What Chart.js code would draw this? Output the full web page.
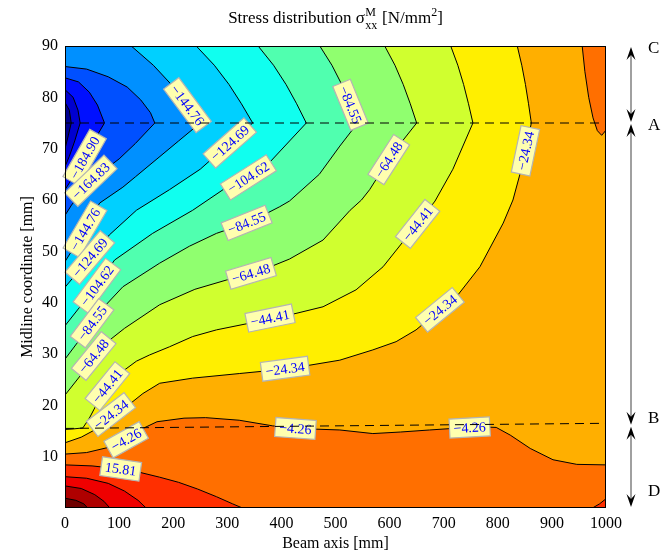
<!DOCTYPE html>
<html>
<head>
<meta charset="utf-8">
<script src="https://cdn.jsdelivr.net/npm/chart.js@4/dist/chart.umd.min.js"></script>
<style>
  html, body { margin: 0; padding: 0; background: #fff; }
  #wrap { width: 662px; height: 553px; position: relative; }
</style>
</head>
<body>
<div id="wrap"><canvas id="c" width="662" height="553"></canvas></div>
<script>
// Contour levels of sigma_xx^M in N/mm^2
const levels = [-225.04, -204.97, -184.90, -164.83, -144.76, -124.69, -104.62, -84.55,
                -64.48, -44.41, -24.34, -4.26, 15.81, 35.88, 55.95, 76.02];

// Fill colour of each band: bandColors[i] lies below levels[i], the last one above the top level
const bandColors = ['#000090', '#0000D0', '#0010FF', '#0050FF', '#0090FF', '#00D0FF',
                    '#10FFEF', '#50FFAF', '#90FF6F', '#D0FF2F', '#FFEF00', '#FFAF00',
                    '#FF6F00', '#FF2F00', '#EF0000', '#AF0000', '#6F0000'];

// Iso-lines, [beam axis mm, midline coordinate mm]
const sig_m225_04 = [[0,70],[6,72.5],[11.5,75],[8,77.5],[0,79]];
const sig_m204_97 = [[0,66.5],[8,68.5],[18,71.5],[28,75],[24,77.5],[15,80],[0,81.5]];
const sig_m184_90 = [[0,62],[20,65.3],[36,68.2],[55,71.8],[73,75],[60,78.5],[45,81],[25,83],[0,83.8]];
const sig_m164_83 = [[0,57],[12,59],[30,61.5],[46,63.6],[75,66],[100,68],[130,71],[166,75],
                     [158,77],[140,79.5],[115,82],[80,84],[40,85.5],[0,86]];
const sig_m144_76 = [[0,48],[15,50.5],[37,54.3],[64,59.4],[107,62.5],[130,64.5],[170,68],[210,71.5],
                     [250,75],[224.5,78.75],[196.5,82.5],[163.3,86.25],[122.5,90]];
const sig_m124_69 = [[0,43],[20,45.5],[46,48.8],[82,53.2],[132,58],[193,62],[250,66],[304.6,71.1],
                     [347,75],[326.1,78.75],[303.2,82.5],[276,86.25],[242.6,90]];
const sig_m104_62 = [[0,35.5],[30,39.5],[59,43.3],[91.6,48.3],[162,53.5],[236,58],[292,62],[323,63.4],
                     [345,64.8],[378,67.3],[446,75],[428.2,78.75],[408.6,82.5],[385.5,86.25],[357,90]];
const sig_m84_55 = [[0,29],[25,32.5],[50,36],[75,39.5],[107,43.1],[175,47.7],[230,51],[280,53.5],
                    [335,55.5],[360,56.7],[397,58.7],[415,59.8],[470,65],[508,70.5],[541,75],
                    [527,78.75],[511.6,82.5],[493.4,86.25],[471,90]];
const sig_m64_48 = [[0,22],[30,26],[53,29.6],[80,32.5],[110,35],[175,39.6],[240,42.6],[298,44.4],
                    [347,45.8],[380,47],[415,48.5],[477,52.2],[527,58],[548,60],[563,62],[606.5,69.2],
                    [650,75],[638.2,78.75],[625.2,82.5],[609.9,86.25],[591,90]];
const sig_m44_41 = [[0,15.3],[15,15.4],[33,15.6],[45,17.5],[60,20.5],[76,23.5],[105,26.5],[132,28.6],
                    [156,29.8],[193,31.4],[236,33.4],[280,34.7],[341,36],[379,37],[415,37.6],[477,39.2],
                    [538,42.5],[588,47],[625,51.9],[653,55.5],[684,59.8],[717,66],[754,75],
                    [745.8,78.75],[736.8,82.5],[726.1,86.25],[713,90]];
const sig_m24_34 = [[0,12.7],[30,13.8],[60,15.5],[85,18.2],[119,20.2],[144,22.3],[175,24.3],[236,25.3],
                    [323,26.2],[391,26.9],[434,27.5],[508,28.8],[569,30.8],[612,32.4],[649,34.7],
                    [693,38.6],[724,41.2],[767,47],[810,55.5],[828,60],[846,67],[862,75],
                    [856.8,78.75],[851.1,82.5],[844.3,86.25],[836,90]];
const sig_m4_26 = [[0,10.5],[40,10.8],[80,11.8],[113,13.3],[140,15.3],[170,16.8],[220,17.5],[260,17.6],
                   [322,17.1],[384,16],[425,15.5],[508,15.2],[569,14.5],[620,14.8],[674,15.2],[717,15.5],
                   [770,15.8],[797,15.7],[823,14.2],[860,11.6],[902,9.4],[946,8.5],[1000,8.4]];
const sig_m4_26_corner = [[956,90],[961,85],[968,80],[976,76],[984,73.5],[992,72.6],[1000,73.6]];
const sig_15_81 = [[0,8.4],[50,8.2],[103,7.6],[140,6.9],[175,6],[210,5],[245,3.7],[280,2.2],[310,0.8],[328,0]];
const sig_15_81_corner = [[975,0],[988,0.8],[1000,1.8]];
const sig_35_88 = [[0,6.1],[40,5.8],[80,4.8],[110,3.3],[135,1.5],[150,0]];
const sig_55_95 = [[0,4.3],[30,3.8],[55,2.6],[72,1.3],[83,0]];
const sig_76_02 = [[0,1.9],[20,1.5],[35,0.8],[42,0]];

// Pieces of each iso-line, parallel to levels
const contourLines = [[sig_m225_04], [sig_m204_97], [sig_m184_90], [sig_m164_83], [sig_m144_76],
                      [sig_m124_69], [sig_m104_62], [sig_m84_55], [sig_m64_48], [sig_m44_41],
                      [sig_m24_34], [sig_m4_26, sig_m4_26_corner], [sig_15_81, sig_15_81_corner],
                      [sig_35_88], [sig_55_95], [sig_76_02]];

// Level labels: [level, beam axis, midline coordinate] near where each one sits
const labelSpots = [
  [-184.90, 32, 68.5], [-164.83, 46, 64], [-144.76, 37, 54.3], [-124.69, 46, 48.8],
  [-104.62, 59, 43.3], [-84.55, 50, 36], [-64.48, 53, 29.6], [-44.41, 76, 24],
  [-24.34, 85, 18.2], [-4.26, 113, 13.3], [15.81, 103, 7.6],
  [-144.76, 224, 78.3], [-124.69, 304.6, 71.1], [-104.62, 347, 63], [-84.55, 338, 55],
  [-64.48, 343, 46], [-44.41, 379, 37], [-24.34, 407, 27], [-4.26, 426, 15.6],
  [-84.55, 522, 78.3], [-64.48, 604, 67.5], [-44.41, 650, 55.5], [-24.34, 693, 38.6],
  [-4.26, 748, 15.7], [-24.34, 855, 69.5]
];

// Section boundaries of the cross section (midline coordinate, mm)
const sectionTop = 90, sectionAB = 75, sectionBD_left = 15.5, sectionBD_right = 16.5, sectionBottom = 0;
const sectionNames = ['C', 'A', 'B', 'D'];
const sectionNameAt = [89.6, 74.6, 17.5, 3.3];

const X0 = 0, X1 = 1000, Y0 = 0, Y1 = 90;
const FONT = '"Liberation Serif", "Times New Roman", serif';

// ---- fill regions, painted from the outer band inwards ----
const regions = [];
regions.push({ pts: [[X0, Y0], [X1, Y0], [X1, Y1], [X0, Y1]], color: bandColors[12] });
for (let i = 11; i >= 0; i--) {          // sigma below a negative level
  const pieces = contourLines[i];
  let poly = pieces[0].slice();
  if (pieces.length > 1) poly = poly.concat(pieces[1].slice().reverse());
  const last = poly[poly.length - 1];
  if (last[1] === Y1) poly.push([X0, Y1]);
  regions.push({ pts: poly, color: bandColors[i] });
}
for (let i = 12; i < levels.length; i++) {  // sigma above a positive level
  for (const piece of contourLines[i]) {
    const poly = piece.slice();
    if (piece[0][0] === X0) poly.push([X0, Y0]);
    else poly.push([X1, Y0]);
    regions.push({ pts: poly, color: bandColors[i + 1] });
  }
}

const toXY = pts => pts.map(([x, y]) => ({ x, y }));
const datasets = [];
regions.forEach((r, k) => {
  datasets.push({
    data: toXY(r.pts), fill: 'shape', backgroundColor: r.color,
    borderColor: 'rgba(0,0,0,0)', borderWidth: 0, pointRadius: 0, tension: 0,
    order: 1000 - k
  });
});
contourLines.forEach(pieces => pieces.forEach(piece => {
  datasets.push({
    data: toXY(piece), fill: false, borderColor: '#000', borderWidth: 1,
    pointRadius: 0, tension: 0, order: 10
  });
}));

// ---- drawing helpers ----
function pathPixels(chart, pts) {
  const xs = chart.scales.x, ys = chart.scales.y;
  return pts.map(([x, y]) => [xs.getPixelForValue(x), ys.getPixelForValue(y)]);
}
function placeOnPath(path, px, py) {
  const cum = [0];
  for (let i = 1; i < path.length; i++)
    cum.push(cum[i - 1] + Math.hypot(path[i][0] - path[i - 1][0], path[i][1] - path[i - 1][1]));
  let best = { d: Infinity };
  for (let i = 1; i < path.length; i++) {
    const [ax, ay] = path[i - 1], [bx, by] = path[i];
    const vx = bx - ax, vy = by - ay, L2 = vx * vx + vy * vy || 1;
    let t = ((px - ax) * vx + (py - ay) * vy) / L2;
    t = Math.max(0, Math.min(1, t));
    const qx = ax + t * vx, qy = ay + t * vy, d = Math.hypot(px - qx, py - qy);
    if (d < best.d) best = { d, x: qx, y: qy, s: cum[i - 1] + t * Math.sqrt(L2) };
  }
  const total = cum[cum.length - 1];
  const at = s => {
    s = Math.max(0, Math.min(total, s));
    for (let i = 1; i < path.length; i++) {
      if (s <= cum[i] || i === path.length - 1) {
        const seg = cum[i] - cum[i - 1] || 1, t = (s - cum[i - 1]) / seg;
        return [path[i - 1][0] + t * (path[i][0] - path[i - 1][0]), path[i - 1][1] + t * (path[i][1] - path[i - 1][1])];
      }
    }
    return path[path.length - 1];
  };
  const p1 = at(best.s - 9), p2 = at(best.s + 9);
  let ang = Math.atan2(p2[1] - p1[1], p2[0] - p1[0]);
  if (ang > Math.PI / 2) ang -= Math.PI;
  if (ang <= -Math.PI / 2) ang += Math.PI;
  return { x: best.x, y: best.y, ang, d: best.d };
}
const fmt = v => (v < 0 ? '\u2212' : '') + Math.abs(v).toFixed(2);

function drawLabels(chart) {
  const ctx = chart.ctx, xs = chart.scales.x, ys = chart.scales.y;
  ctx.save();
  ctx.font = '14px ' + FONT;
  ctx.textAlign = 'center';
  ctx.textBaseline = 'middle';
  for (const [lev, lx, ly] of labelSpots) {
    const idx = levels.indexOf(lev);
    const px = xs.getPixelForValue(lx), py = ys.getPixelForValue(ly);
    let pos = null;
    for (const piece of contourLines[idx]) {
      const p = placeOnPath(pathPixels(chart, piece), px, py);
      if (!pos || p.d < pos.d) pos = p;
    }
    const txt = fmt(levels[idx]);
    const w = ctx.measureText(txt).width + 8, h = 19;
    ctx.save();
    ctx.translate(pos.x, pos.y);
    ctx.rotate(pos.ang);
    ctx.fillStyle = 'rgb(255,255,175)';
    ctx.fillRect(-w / 2, -h / 2, w, h);
    ctx.strokeStyle = '#b4b4b4';
    ctx.lineWidth = 1.2;
    ctx.strokeRect(-w / 2, -h / 2, w, h);
    ctx.fillStyle = '#0000ff';
    ctx.fillText(txt, 0, 1);
    ctx.restore();
  }
  ctx.restore();
}

function drawSectionLines(chart) {
  const ctx = chart.ctx, xs = chart.scales.x, ys = chart.scales.y, a = chart.chartArea;
  ctx.save();
  ctx.beginPath();
  ctx.rect(a.left, a.top, a.right - a.left, a.bottom - a.top);
  ctx.clip();
  ctx.strokeStyle = '#000';
  ctx.lineWidth = 1;
  ctx.setLineDash([9, 6]);
  ctx.beginPath();
  ctx.moveTo(xs.getPixelForValue(X0), ys.getPixelForValue(sectionAB));
  ctx.lineTo(xs.getPixelForValue(X1), ys.getPixelForValue(sectionAB));
  ctx.moveTo(xs.getPixelForValue(X0), ys.getPixelForValue(sectionBD_left));
  ctx.lineTo(xs.getPixelForValue(X1), ys.getPixelForValue(sectionBD_right));
  ctx.stroke();
  ctx.restore();
}

function drawFrame(chart) {
  const ctx = chart.ctx, a = chart.chartArea;
  ctx.save();
  ctx.strokeStyle = '#000';
  ctx.lineWidth = 1;
  ctx.strokeRect(Math.round(a.left) + 0.5, Math.round(a.top) + 0.5,
                 Math.round(a.right - a.left) - 1, Math.round(a.bottom - a.top) - 1);
  ctx.restore();
}

function arrowHead(ctx, x, tipY, dir) {   // dir: -1 points up, +1 points down
  const len = 13, half = 4.5, notch = 8;
  ctx.beginPath();
  ctx.moveTo(x, tipY);
  ctx.lineTo(x - half, tipY - dir * len);
  ctx.lineTo(x, tipY - dir * notch);
  ctx.lineTo(x + half, tipY - dir * len);
  ctx.closePath();
  ctx.fill();
}

function drawSections(chart) {
  const ctx = chart.ctx, ys = chart.scales.y, a = chart.chartArea;
  const ax = a.right + 25;
  const bBD = (sectionBD_left + sectionBD_right) / 2;
  const spans = [[sectionTop, sectionAB], [sectionAB, bBD], [bBD, sectionBottom]];
  ctx.save();
  for (const [yt, yb] of spans) {
    const pt = ys.getPixelForValue(yt) + 1, pb = ys.getPixelForValue(yb) - 1;
    ctx.strokeStyle = '#808080';
    ctx.lineWidth = 1.5;
    ctx.beginPath();
    ctx.moveTo(ax, pt + 6);
    ctx.lineTo(ax, pb - 6);
    ctx.stroke();
    ctx.fillStyle = '#000';
    arrowHead(ctx, ax, pt, -1);
    arrowHead(ctx, ax, pb, 1);
  }
  ctx.fillStyle = '#000';
  ctx.font = '17px ' + FONT;
  ctx.textAlign = 'left';
  ctx.textBaseline = 'middle';
  sectionNames.forEach((n, i) => ctx.fillText(n, a.right + 42, ys.getPixelForValue(sectionNameAt[i])));
  ctx.restore();
}

function drawTitle(chart) {
  const ctx = chart.ctx, a = chart.chartArea;
  const big = '17px ' + FONT, small = '12px ' + FONT;
  const base = 23;
  ctx.save();
  ctx.fillStyle = '#000';
  ctx.textBaseline = 'alphabetic';
  ctx.textAlign = 'left';
  const seg1 = 'Stress distribution \u03C3', seg2 = ' [N/mm', seg3 = ']';
  ctx.font = big;
  const w1 = ctx.measureText(seg1).width, w2 = ctx.measureText(seg2).width, w3 = ctx.measureText(seg3).width;
  ctx.font = small;
  const wM = ctx.measureText('M').width, wxx = ctx.measureText('xx').width, w2s = ctx.measureText('2').width;
  const wStack = Math.max(wM, wxx) + 1;
  const total = w1 + wStack + w2 + w2s + w3;
  let x = (a.left + a.right) / 2 - total / 2;
  ctx.font = big; ctx.fillText(seg1, x, base); x += w1;
  ctx.font = small; ctx.fillText('M', x + 0.5, base - 7); ctx.fillText('xx', x + 0.5, base + 6); x += wStack;
  ctx.font = big; ctx.fillText(seg2, x, base); x += w2;
  ctx.font = small; ctx.fillText('2', x, base - 7); x += w2s;
  ctx.font = big; ctx.fillText(seg3, x, base);
  ctx.restore();
}

const overlay = {
  id: 'overlay',
  afterDatasetsDraw(chart) {
    drawLabels(chart);
    drawSectionLines(chart);
    drawFrame(chart);
  },
  afterDraw(chart) {
    drawTitle(chart);
    drawSections(chart);
  }
};

new Chart(document.getElementById('c'), {
  type: 'line',
  data: { datasets },
  options: {
    responsive: false,
    animation: false,
    events: [],
    layout: { padding: { top: 46, right: 56, left: 0, bottom: 0 } },
    plugins: { legend: { display: false }, tooltip: { enabled: false }, filler: { propagate: false } },
    scales: {
      x: {
        type: 'linear', min: X0, max: X1,
        afterFit: s => { s.height = 45; },
        grid: { display: false, drawTicks: false },
        border: { display: false },
        ticks: { stepSize: 100, color: '#000', font: { family: FONT, size: 16 }, padding: 6, maxRotation: 0,
                 callback: v => String(v) },
        title: { display: true, text: 'Beam axis [mm]', color: '#000', font: { family: FONT, size: 16 }, padding: { top: 0, bottom: 0 } }
      },
      y: {
        type: 'linear', min: Y0, max: Y1,
        afterFit: s => { s.width = 65; },
        grid: { display: false, drawTicks: false },
        border: { display: false },
        ticks: { stepSize: 10, color: '#000', font: { family: FONT, size: 16 }, padding: 7,
                 callback: v => (v === 0 ? '' : String(v)) },
        title: { display: true, text: 'Midline coordinate [mm]', color: '#000', font: { family: FONT, size: 16 }, padding: { top: 18, bottom: 0 } }
      }
    }
  },
  plugins: [overlay]
});
</script>
</body>
</html>
